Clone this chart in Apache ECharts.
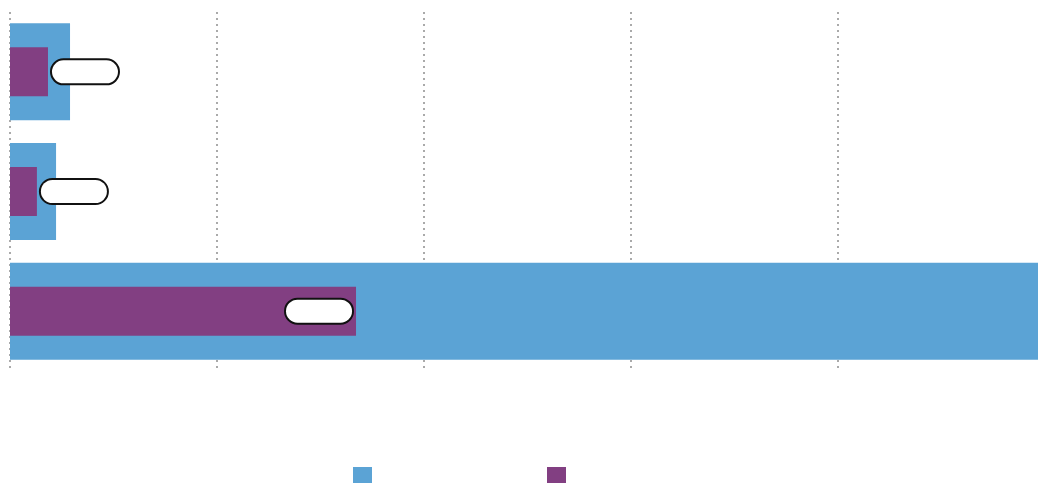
<!DOCTYPE html>
<html>
<head>
<meta charset="utf-8">
<script src="https://cdn.jsdelivr.net/npm/echarts@6/dist/echarts.min.js"></script>
<style>html,body{margin:0;padding:0;background:#fff}#c{width:1038px;height:483px}</style>
</head>
<body>
<div id="c"></div>
<script>
const categories = ['A', 'B', 'C'];
const totalValues = [5.8, 4.45, 99.32];
const partValues = [3.67, 2.6, 33.43];
const seriesNames = ['Total', 'Part'];

const chart = echarts.init(document.getElementById('c'));
const partData = partValues.map(v => ({
  value: v,
  label: v > 20 ? { position: 'insideRight', distance: 4 } : { position: 'right', distance: 4 }
}));
chart.setOption({
  animation: false,
  grid: { left: 10, right: 0, top: 12, bottom: 112, containLabel: false },
  legend: {
    left: 353, top: 467, padding: 0,
    itemWidth: 19, itemHeight: 17, itemGap: 175,
    icon: 'rect',
    formatter: () => '',
    data: seriesNames
  },
  xAxis: {
    type: 'value', min: 0, max: 99.32, interval: 20,
    axisLabel: { show: false }, axisLine: { show: false }, axisTick: { show: false },
    splitLine: { show: true, showMaxLine: false, lineStyle: { type: [2, 4], color: '#aaa', width: 2 } }
  },
  yAxis: [
    { type: 'category', data: categories, inverse: true,
      axisLine: { show: false }, axisTick: { show: false }, axisLabel: { show: false } },
    { type: 'category', data: categories, inverse: true, show: false,
      axisLine: { show: false }, axisTick: { show: false }, axisLabel: { show: false } }
  ],
  series: [
    { name: seriesNames[0], type: 'bar', data: totalValues, yAxisIndex: 0,
      barWidth: '81%', itemStyle: { color: '#5ba3d5' } },
    { name: seriesNames[1], type: 'bar', data: partData, yAxisIndex: 1,
      barWidth: '41%', itemStyle: { color: '#823f82' },
      label: {
        show: true, formatter: () => ' ',
        width: 66, height: 23, padding: 0,
        backgroundColor: '#fff', borderColor: '#111', borderWidth: 2, borderRadius: 13
      } }
  ]
});
</script>
</body>
</html>
